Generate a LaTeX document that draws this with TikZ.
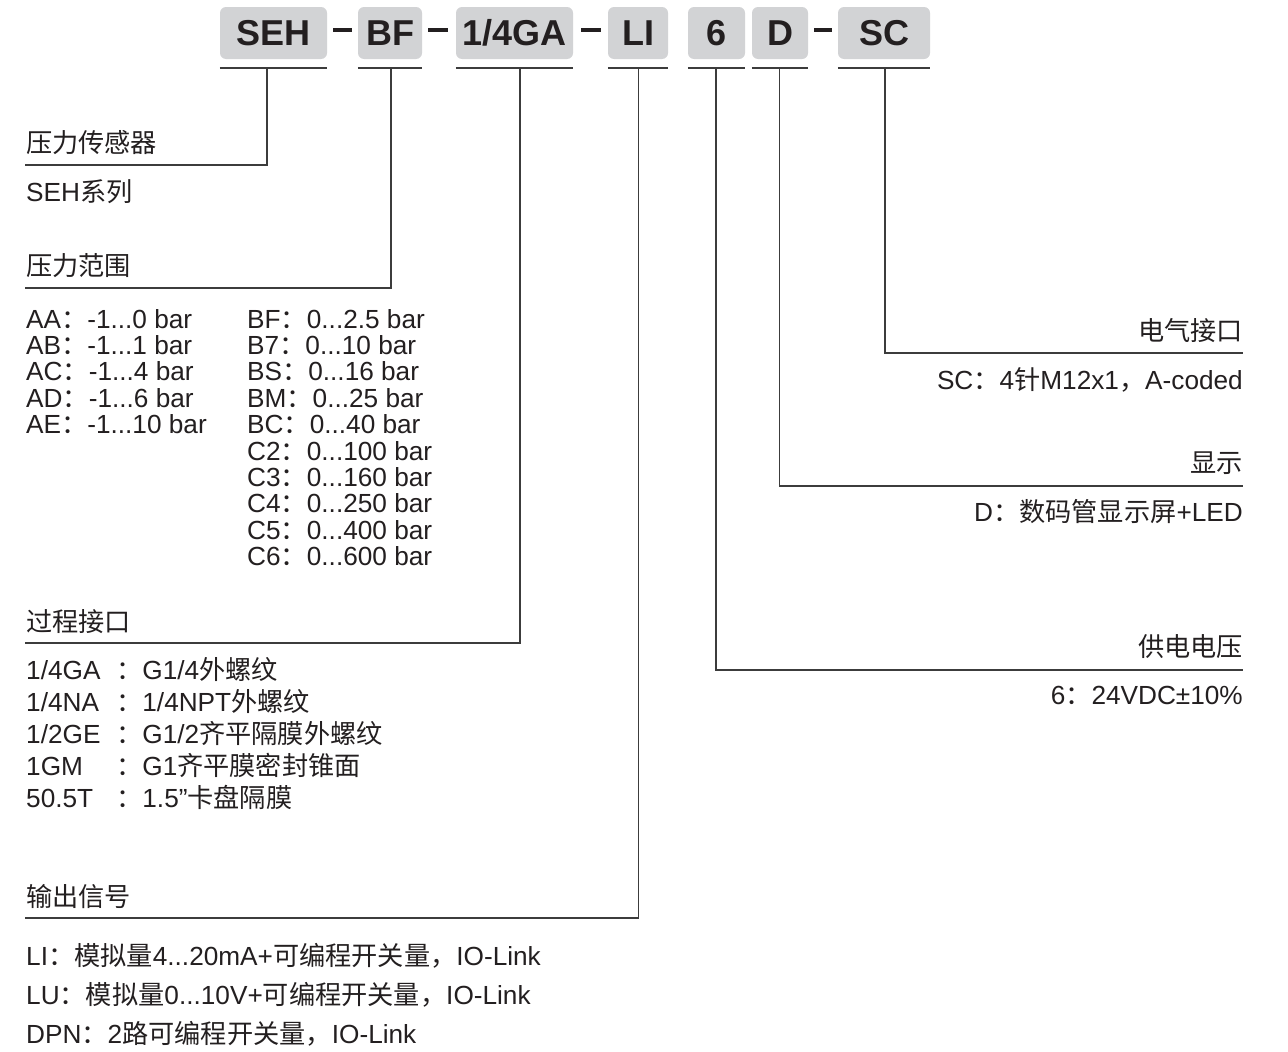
\documentclass[tikz,border=0pt]{standalone}
\usepackage{fontspec}
\setmainfont{Liberation Sans}
\newfontfamily\cjkfont{Noto Sans CJK SC}
\newcommand\zh[1]{{\cjkfont #1}}
\usetikzlibrary{calc}
\definecolor{boxgray}{RGB}{210,211,213}
\definecolor{ink}{RGB}{35,31,32}
\definecolor{linegray}{RGB}{60,60,60}
\begin{document}
\begin{tikzpicture}[x=1pt,y=-1pt,
  hbox/.style={fill=boxgray, rounded corners=6pt, minimum height=52pt, inner sep=0pt, text=ink, font=\fontsize{36}{40}\selectfont\bfseries},
  conn/.style={draw=linegray, line width=1.6pt},
  lbl/.style={anchor=base west, inner sep=0pt, text=ink, font=\fontsize{26.2}{28}\selectfont},
  rlbl/.style={lbl, anchor=base east},
  dashln/.style={line width=3.2pt, draw=ink}
]
\useasboundingbox[fill=white] (0,0) rectangle (1288,1052);

% header boxes
\node[hbox, minimum width=107pt] (seh) at (273.5,33) {SEH};
\node[hbox, minimum width=64pt]  (bf)  at (390,33) {BF};
\node[hbox, minimum width=117pt] (ga)  at (514.5,33) {1/4GA};
\node[hbox, minimum width=60pt]  (li)  at (638,33) {LI};
\node[hbox, minimum width=57pt]  (six) at (716.5,33) {6};
\node[hbox, minimum width=56pt]  (dd)  at (780,33) {D};
\node[hbox, minimum width=92pt]  (sc)  at (884,33) {SC};

% dashes
\draw[dashln] ($(seh.east)+(6,-3)$) -- ($(bf.west)+(-6,-3)$);
\draw[dashln] ($(bf.east)+(6,-3)$) -- ($(ga.west)+(-8,-3)$);
\draw[dashln] ($(ga.east)+(8,-3)$) -- ($(li.west)+(-7,-3)$);
\draw[dashln] ($(dd.east)+(6,-3)$) -- ($(sc.west)+(-6,-3)$);

% underline level
\coordinate (ul) at (0,68);
\foreach \b in {seh,bf,ga,li,six,dd,sc}{
  \draw[conn] (\b.west |- ul) -- (\b.east |- ul);
}

% connector start points
\coordinate (u1) at (267,68);
\coordinate (u2) at (391,68);
\coordinate (u3) at (520,68);
\coordinate (u4) at (638.5,68);
\coordinate (u5) at (716,68);
\coordinate (u6) at (779.5,68);
\coordinate (u7) at (885,68);

% connector end points
\coordinate (e1) at (25,165);
\coordinate (e2) at (25,288);
\coordinate (e3) at (25,643);
\coordinate (e4) at (25,918);
\coordinate (e5) at (1243,670);
\coordinate (e6) at (1243,486);
\coordinate (e7) at (1243,353);

\draw[conn] (u1) |- (e1);
\draw[conn] (u2) |- (e2);
\draw[conn] (u3) |- (e3);
\draw[conn] (u4) |- (e4);
\draw[conn] (u5) |- (e5);
\draw[conn] (u6) |- (e6);
\draw[conn] (u7) |- (e7);

% left labels
\node[lbl] (t1) at (26,152) {\zh{压力传感器}};
\node[lbl] (t1a) at (26,201) {SEH\zh{系列}};

\node[lbl] (t2) at (26,275) {\zh{压力范围}};
\node[lbl] (r1) at (26,328) {AA\zh{：}-1...0 bar};
\node[lbl] (r2) at (26,354.4) {AB\zh{：}-1...1 bar};
\node[lbl] (r3) at (26,380.8) {AC\zh{：}-1...4 bar};
\node[lbl] (r4) at (26,407.2) {AD\zh{：}-1...6 bar};
\node[lbl] (r5) at (26,433.6) {AE\zh{：}-1...10 bar};
\node[lbl] (s1) at (247,328) {BF\zh{：}0...2.5 bar};
\node[lbl] (s2) at (247,354.4) {B7\zh{：}0...10 bar};
\node[lbl] (s3) at (247,380.8) {BS\zh{：}0...16 bar};
\node[lbl] (s4) at (247,407.2) {BM\zh{：}0...25 bar};
\node[lbl] (s5) at (247,433.6) {BC\zh{：}0...40 bar};
\node[lbl] (s6) at (247,460) {C2\zh{：}0...100 bar};
\node[lbl] (s7) at (247,486.4) {C3\zh{：}0...160 bar};
\node[lbl] (s8) at (247,512.8) {C4\zh{：}0...250 bar};
\node[lbl] (s9) at (247,539.2) {C5\zh{：}0...400 bar};
\node[lbl] (s10) at (247,565.6) {C6\zh{：}0...600 bar};

\node[lbl] (t3) at (26,631) {\zh{过程接口}};
\node[lbl] (p1) at (26,679) {1/4GA};
\node[lbl] (p2) at (26,711) {1/4NA};
\node[lbl] (p3) at (26,743) {1/2GE};
\node[lbl] (p4) at (26,775) {1GM};
\node[lbl] (p5) at (26,807) {50.5T};
\node[lbl] (q1) at (116,679) {\zh{：}G1/4\zh{外螺纹}};
\node[lbl] (q2) at (116,711) {\zh{：}1/4NPT\zh{外螺纹}};
\node[lbl] (q3) at (116,743) {\zh{：}G1/2\zh{齐平隔膜外螺纹}};
\node[lbl] (q4) at (116,775) {\zh{：}G1\zh{齐平膜密封锥面}};
\node[lbl] (q5) at (116,807) {\zh{：}1.5”\zh{卡盘隔膜}};

\node[lbl] (t4) at (26,906) {\zh{输出信号}};
\node[lbl] (o1) at (26,965) {LI\zh{：模拟量}4...20mA+\zh{可编程开关量，}IO-Link};
\node[lbl] (o2) at (26,1004) {LU\zh{：模拟量}0...10V+\zh{可编程开关量，}IO-Link};
\node[lbl] (o3) at (26,1043) {DPN\zh{：}2\zh{路可编程开关量，}IO-Link};

% right labels
\node[rlbl] (t7) at (1243,340) {\zh{电气接口}};
\node[rlbl] (v7) at (1243,389) {SC\zh{：}4\zh{针}M12x1\zh{，}A-coded};
\node[rlbl] (t6) at (1243,472) {\zh{显示}};
\node[rlbl] (v6) at (1243,521) {D\zh{：数码管显示屏}+LED};
\node[rlbl] (t5) at (1243,656) {\zh{供电电压}};
\node[rlbl] (v5) at (1243,704) {6\zh{：}24VDC±10\%};
\end{tikzpicture}
\end{document}
